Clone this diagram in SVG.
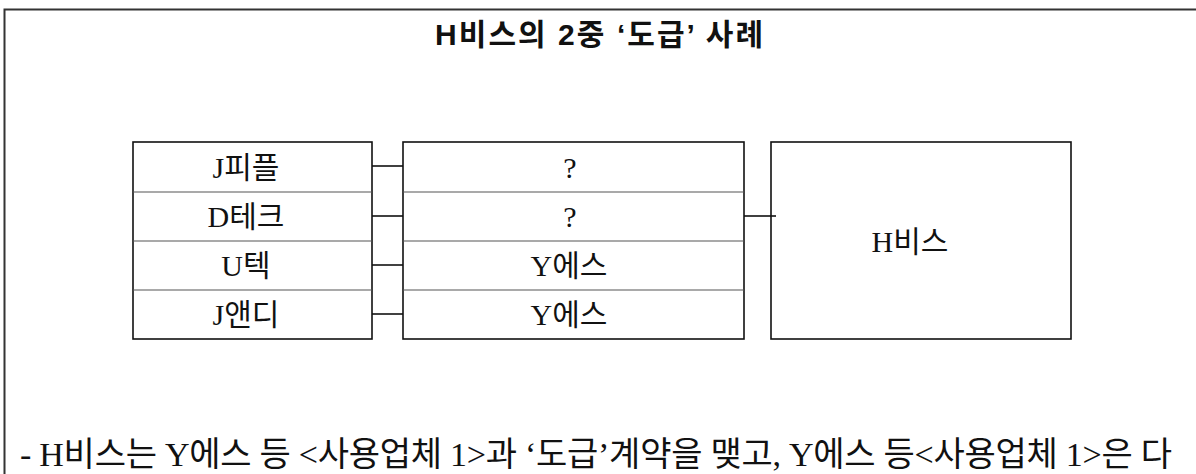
<svg xmlns="http://www.w3.org/2000/svg" width="1196" height="474" viewBox="0 0 1196 474">
<style>
.frame{fill:none;stroke:#333;stroke-width:2}
.box{fill:#fff;stroke:#111;stroke-width:1.6}
.div{stroke:#555;stroke-width:1.2}
.conn{stroke:#111;stroke-width:1.6;fill:none}
.t{font-family:"Liberation Serif","Noto Sans CJK KR",serif;font-size:30px;fill:#111;text-anchor:middle}
.title{font-family:"Liberation Sans","Noto Sans CJK KR",sans-serif;font-size:30px;font-weight:bold;fill:#111}
.note{font-family:"Liberation Serif","Noto Sans CJK KR",serif;font-size:34px;fill:#111}
</style>
<rect width="1196" height="474" fill="#fff"/>
<path class="frame" d="M4.5,474 V9.5 H1196"/>
<text class="title" x="435" y="45" textLength="328" lengthAdjust="spacing">H비스의 2중 ‘도급’ 사례</text>

<g id="left-table">
<rect class="box" x="133" y="142" width="239" height="197"/>
<line class="div" x1="133" y1="192" x2="372" y2="192"/>
<line class="div" x1="133" y1="241" x2="372" y2="241"/>
<line class="div" x1="133" y1="290" x2="372" y2="290"/>
</g>
<g id="n-jpeople"><text class="t" x="246" y="178">J피플</text></g>
<g id="n-dtech"><text class="t" x="246" y="227">D테크</text></g>
<g id="n-utech"><text class="t" x="246" y="276">U텍</text></g>
<g id="n-jandy"><text class="t" x="246" y="325">J앤디</text></g>

<g id="mid-table">
<rect class="box" x="403" y="142" width="341" height="197"/>
<line class="div" x1="403" y1="192" x2="744" y2="192"/>
<line class="div" x1="403" y1="241" x2="744" y2="241"/>
<line class="div" x1="403" y1="290" x2="744" y2="290"/>
</g>
<g id="n-q1"><text class="t" x="570" y="178">?</text></g>
<g id="n-q2"><text class="t" x="570" y="227">?</text></g>
<g id="n-yes1"><text class="t" x="569" y="276">Y에스</text></g>
<g id="n-yes2"><text class="t" x="569" y="325">Y에스</text></g>

<g id="n-hbis">
<rect class="box" x="771" y="142" width="300" height="197"/>
<text class="t" x="910" y="252">H비스</text>
</g>

<g id="connectors">
<line class="conn" x1="372" y1="166" x2="403" y2="166"/>
<line class="conn" x1="372" y1="216" x2="403" y2="216"/>
<line class="conn" x1="372" y1="265" x2="403" y2="265"/>
<line class="conn" x1="372" y1="314" x2="403" y2="314"/>
<line class="conn" x1="744" y1="216" x2="776" y2="216"/>
</g>

<text class="note" x="20" y="466" textLength="1152" lengthAdjust="spacing">- H비스는 Y에스 등 &lt;사용업체 1&gt;과 ‘도급’계약을 맺고, Y에스 등&lt;사용업체 1&gt;은 다</text>
</svg>
